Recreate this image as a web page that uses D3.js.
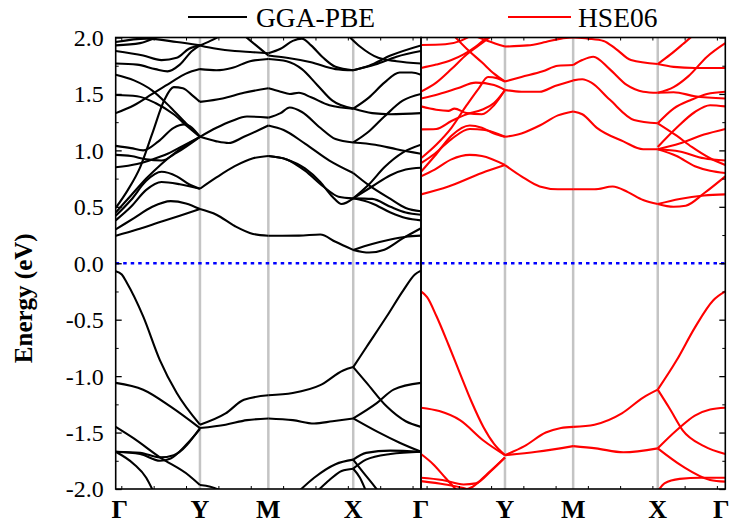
<!DOCTYPE html>
<html>
<head>
<meta charset="utf-8">
<script src="https://cdn.jsdelivr.net/npm/d3@7"></script>
<style>
  body { margin: 0; background: #fff; }
  text { font-family: "Liberation Serif", "Times New Roman", serif; }
</style>
</head>
<body>
<script>
// k-path: high symmetry points (fraction of path length)
var kNodes = [0, 0.276, 0.5, 0.778, 1];
var kLabels = ["Γ", "Y", "M", "X", "Γ"];
var energyTicks = [2, 1.5, 1, 0.5, 0, -0.5, -1, -1.5, -2];
var legendNames = ["GGA-PBE", "HSE06"];

// GGA-PBE bands, [k, E(eV)]
var pbeValence = [
  [[0,-0.07],[0.02,-0.10],[0.036,-0.17],[0.09,-0.47],[0.145,-0.86],[0.2,-1.15],[0.276,-1.43],[0.36,-1.33],[0.42,-1.21],[0.5,-1.17],[0.58,-1.15],[0.67,-1.08],[0.745,-0.95],[0.778,-0.92],[0.822,-0.74],[0.888,-0.47],[0.942,-0.24],[0.98,-0.10],[1,-0.065]],
  [[0,-1.06],[0.09,-1.12],[0.18,-1.27],[0.276,-1.46],[0.36,-1.43],[0.43,-1.39],[0.5,-1.375],[0.58,-1.39],[0.65,-1.42],[0.71,-1.40],[0.778,-1.375],[0.855,-1.24],[0.91,-1.12],[1,-1.06]],
  [[0.778,-0.92],[0.822,-1.06],[0.888,-1.27],[0.95,-1.40],[1,-1.45]],
  [[0.778,-1.375],[0.855,-1.49],[0.93,-1.59],[1,-1.67]],
  [[0,-1.45],[0.058,-1.55],[0.145,-1.72],[0.24,-1.88],[0.276,-1.965],[0.31,-1.98],[0.35,-2.02]],
  [[0,-1.67],[0.08,-1.68],[0.145,-1.72],[0.19,-1.70],[0.276,-1.46]],
  [[0,-1.67],[0.08,-1.69],[0.145,-1.75],[0.18,-1.73],[0.23,-1.61],[0.276,-1.47]],
  [[0,-1.67],[0.06,-1.78],[0.1,-1.90],[0.123,-2.02]],
  [[0.6,-2.02],[0.65,-1.9],[0.72,-1.78],[0.778,-1.74],[0.82,-1.68],[0.9,-1.66],[1,-1.67]],
  [[0.66,-2.02],[0.7,-1.92],[0.74,-1.84],[0.778,-1.82],[0.82,-1.74],[0.9,-1.69],[1,-1.67]],
  [[0.778,-1.74],[0.81,-1.85],[0.84,-1.95],[0.86,-2.02]],
  [[0.778,-1.82],[0.80,-1.90],[0.82,-2.02]]
];
var pbeConduction = [
  [[0,0.244],[0.07,0.30],[0.14,0.36],[0.21,0.42],[0.276,0.48],[0.33,0.43],[0.39,0.33],[0.45,0.26],[0.5,0.244],[0.6,0.245],[0.67,0.255],[0.72,0.19],[0.778,0.118],[0.84,0.17],[0.9,0.21],[0.95,0.235],[1,0.245]],
  [[0,0.30],[0.06,0.40],[0.12,0.50],[0.18,0.55],[0.23,0.53],[0.276,0.48]],
  [[0.778,0.118],[0.83,0.095],[0.88,0.12],[0.94,0.22],[1,0.31]],
  [[0,0.38],[0.05,0.50],[0.1,0.65],[0.15,0.72],[0.21,0.70],[0.276,0.66],[0.33,0.76],[0.39,0.86],[0.45,0.93],[0.5,0.95],[0.56,0.92],[0.62,0.82],[0.68,0.68],[0.73,0.59],[0.778,0.575],[0.84,0.53],[0.9,0.45],[0.95,0.40],[1,0.38]],
  [[0,0.42],[0.05,0.56],[0.1,0.73],[0.15,0.81],[0.2,0.77],[0.24,0.70],[0.276,0.66]],
  [[0.5,0.95],[0.56,0.92],[0.62,0.84],[0.67,0.72],[0.71,0.59],[0.74,0.525],[0.778,0.575],[0.84,0.68],[0.9,0.78],[0.95,0.83],[1,0.846]],
  [[0,0.45],[0.05,0.60],[0.1,0.75],[0.15,0.88],[0.2,0.99],[0.276,1.12],[0.33,1.08],[0.37,1.065],[0.42,1.12],[0.5,1.22],[0.55,1.18],[0.62,1.06],[0.7,0.91],[0.778,0.80],[0.83,0.69],[0.9,0.57],[0.95,0.49],[1,0.46]],
  [[0,0.49],[0.04,0.65],[0.08,0.85],[0.12,1.15],[0.16,1.45],[0.19,1.56],[0.22,1.55],[0.25,1.49],[0.276,1.43],[0.35,1.46],[0.42,1.51],[0.5,1.55],[0.54,1.52],[0.57,1.50],[0.6,1.51],[0.64,1.47],[0.7,1.40],[0.778,1.37],[0.84,1.33],[0.9,1.32],[1,1.33]],
  [[0,1.04],[0.05,1.02],[0.09,1.0],[0.14,1.08],[0.19,1.2],[0.225,1.23],[0.25,1.2],[0.276,1.12],[0.33,1.2],[0.38,1.26],[0.43,1.30],[0.5,1.29],[0.54,1.33],[0.57,1.38],[0.61,1.34],[0.67,1.2],[0.72,1.1],[0.778,1.07],[0.85,1.05],[0.92,1.01],[1,0.97]],
  [[0,0.85],[0.07,0.88],[0.12,0.92],[0.17,0.97],[0.22,1.04],[0.276,1.12]],
  [[0,0.96],[0.05,0.95],[0.1,0.92],[0.15,0.91],[0.2,0.98],[0.276,1.12]],
  [[0.778,0.575],[0.83,0.7],[0.88,0.85],[0.94,0.98],[1,1.05]],
  [[0.778,0.575],[0.84,0.57],[0.9,0.50],[0.95,0.45],[1,0.43]],
  [[0,1.33],[0.06,1.40],[0.12,1.50],[0.18,1.60],[0.23,1.68],[0.276,1.72],[0.33,1.71],[0.38,1.73],[0.44,1.79],[0.5,1.81],[0.56,1.79],[0.61,1.72],[0.66,1.58],[0.71,1.44],[0.778,1.37],[0.83,1.47],[0.88,1.6],[0.93,1.69],[0.97,1.69],[1,1.67]],
  [[0,1.49],[0.07,1.48],[0.13,1.42],[0.19,1.32],[0.24,1.2],[0.276,1.12]],
  [[0,1.67],[0.06,1.62],[0.12,1.53],[0.18,1.38],[0.23,1.24],[0.276,1.12]],
  [[0.778,1.07],[0.83,1.17],[0.88,1.3],[0.94,1.44],[1,1.50]],
  [[0,1.77],[0.07,1.76],[0.13,1.72],[0.17,1.70],[0.21,1.76],[0.25,1.88],[0.276,1.93],[0.33,1.90],[0.39,1.88],[0.45,1.87],[0.5,1.86],[0.54,1.9],[0.58,1.97],[0.61,1.99],[0.64,1.93],[0.68,1.82],[0.72,1.74],[0.778,1.71],[0.83,1.75],[0.9,1.84],[1,1.93]],
  [[0,1.88],[0.09,1.84],[0.15,1.80],[0.2,1.82],[0.24,1.9],[0.276,1.93],[0.31,1.97],[0.34,2.01]],
  [[0,1.96],[0.1,1.99],[0.2,1.96],[0.276,1.93]],
  [[0,1.93],[0.08,1.95],[0.14,2.01]],
  [[0.42,2.02],[0.46,1.93],[0.5,1.84],[0.56,1.82],[0.64,1.78],[0.72,1.72],[0.778,1.71],[0.85,1.76],[0.92,1.83],[1,1.88]],
  [[0.76,2.02],[0.8,1.92],[0.86,1.82],[0.92,1.79],[1,1.77]]
];

// HSE06 bands, [k, E(eV)]
var hseValence = [
  [[0,-0.25],[0.02,-0.30],[0.051,-0.47],[0.09,-0.72],[0.128,-0.975],[0.165,-1.22],[0.205,-1.45],[0.24,-1.6],[0.276,-1.70],[0.34,-1.62],[0.41,-1.50],[0.46,-1.46],[0.5,-1.45],[0.57,-1.43],[0.66,-1.33],[0.73,-1.19],[0.778,-1.12],[0.84,-0.86],[0.9,-0.57],[0.96,-0.33],[1,-0.25]],
  [[0,-1.28],[0.06,-1.31],[0.128,-1.39],[0.205,-1.57],[0.276,-1.70],[0.38,-1.67],[0.5,-1.62],[0.575,-1.64],[0.665,-1.675],[0.778,-1.64],[0.84,-1.48],[0.9,-1.35],[0.95,-1.295],[1,-1.28]],
  [[0.778,-1.64],[0.86,-1.80],[0.95,-1.92],[1,-1.935]],
  [[0.778,-1.12],[0.82,-1.3],[0.86,-1.48],[0.93,-1.62],[1,-1.69]],
  [[0,-1.69],[0.04,-1.78],[0.08,-1.9],[0.12,-2.02]],
  [[0,-1.90],[0.07,-1.92],[0.14,-1.96],[0.18,-1.95],[0.23,-1.84],[0.276,-1.72]],
  [[0,-1.93],[0.08,-1.96],[0.15,-2.0],[0.17,-2.02]],
  [[0.12,-2.02],[0.17,-1.98],[0.22,-1.86],[0.276,-1.72]],
  [[0.778,-2.02],[0.8,-1.95],[0.85,-1.91],[0.92,-1.90],[1,-1.90]]
];
var hseConduction = [
  [[0,0.61],[0.09,0.68],[0.2,0.80],[0.276,0.87],[0.33,0.77],[0.39,0.68],[0.45,0.655],[0.5,0.655],[0.57,0.655],[0.63,0.68],[0.68,0.63],[0.73,0.56],[0.778,0.525],[0.85,0.57],[0.93,0.60],[1,0.61]],
  [[0,0.77],[0.045,0.83],[0.1,0.92],[0.16,0.96],[0.2,0.95],[0.276,0.87]],
  [[0.778,0.525],[0.83,0.50],[0.87,0.51],[0.93,0.62],[1,0.77]],
  [[0,0.81],[0.045,0.95],[0.1,1.13],[0.16,1.22],[0.2,1.20],[0.24,1.15],[0.276,1.12],[0.33,1.15],[0.39,1.22],[0.45,1.31],[0.5,1.345],[0.53,1.32],[0.578,1.2],[0.665,1.08],[0.73,1.01],[0.778,1.01],[0.85,0.99],[0.93,0.93],[1,0.91]],
  [[0,0.886],[0.045,0.97],[0.1,1.10],[0.16,1.19],[0.21,1.18],[0.276,1.12]],
  [[0.778,1.01],[0.84,0.95],[0.9,0.86],[0.95,0.82],[1,0.80]],
  [[0.778,1.01],[0.85,1.06],[0.93,1.14],[1,1.19]],
  [[0,0.93],[0.05,1.05],[0.1,1.2],[0.15,1.4],[0.19,1.55],[0.22,1.65],[0.25,1.64],[0.276,1.61],[0.33,1.65],[0.4,1.70],[0.45,1.75],[0.5,1.756],[0.53,1.80],[0.566,1.83],[0.62,1.72],[0.676,1.58],[0.73,1.52],[0.778,1.51],[0.83,1.515],[0.9,1.48],[1,1.46]],
  [[0,1.186],[0.05,1.19],[0.1,1.26],[0.15,1.32],[0.2,1.36],[0.24,1.42],[0.276,1.535],[0.33,1.52],[0.39,1.52],[0.44,1.57],[0.5,1.62],[0.53,1.63],[0.56,1.60],[0.62,1.45],[0.7,1.27],[0.778,1.24],[0.84,1.13],[0.89,1.03],[0.95,0.93],[1,0.87]],
  [[0.778,1.24],[0.83,1.37],[0.89,1.45],[0.94,1.50],[1,1.52]],
  [[0,1.39],[0.05,1.36],[0.09,1.35],[0.11,1.37],[0.15,1.33],[0.2,1.32],[0.24,1.40],[0.276,1.535]],
  [[0,1.46],[0.06,1.50],[0.12,1.55],[0.18,1.60],[0.24,1.58],[0.276,1.535]],
  [[0,1.52],[0.05,1.6],[0.1,1.72],[0.15,1.85],[0.2,1.95],[0.23,2.01]],
  [[0,1.73],[0.05,1.76],[0.1,1.80],[0.14,1.85],[0.18,1.92],[0.22,2.01]],
  [[0,1.934],[0.08,1.94],[0.13,1.97],[0.16,2.01]],
  [[0.11,2.01],[0.15,1.9],[0.2,1.78],[0.24,1.68],[0.276,1.61]],
  [[0.18,2.01],[0.22,1.97],[0.276,1.92],[0.35,1.93],[0.41,1.96],[0.46,1.99],[0.5,2.0],[0.55,1.99],[0.6,1.97],[0.64,1.90],[0.69,1.80],[0.778,1.765],[0.83,1.74],[0.9,1.73],[1,1.73]],
  [[0.778,1.765],[0.82,1.85],[0.86,1.94],[0.89,2.01]],
  [[0.778,1.51],[0.83,1.56],[0.88,1.66],[0.94,1.83],[1,1.95]],
  [[0.778,1.03],[0.84,1.2],[0.9,1.34],[0.95,1.40],[1,1.39]]
];

var W = 732, H = 528;
var plotTop = 37.5, plotBottom = 489;
var svg = d3.select("body").append("svg")
    .attr("width", W).attr("height", H);

var y = d3.scaleLinear().domain([-2, 2]).range([plotBottom, plotTop]);

var panels = [
  { x0: 115.7, x1: 421, color: "#000000", bands: pbeValence.concat(pbeConduction) },
  { x0: 421, x1: 725.3, color: "#ff0000", bands: hseValence.concat(hseConduction) }
];

// break a band at the high-symmetry points so kinks stay sharp
function splitAtNodes(band) {
  var pieces = [], cur = [];
  band.forEach(function(p, i) {
    cur.push(p);
    var atNode = kNodes.slice(1, 4).some(function(k) { return Math.abs(k - p[0]) < 0.003; });
    if (atNode && i > 0 && i < band.length - 1) {
      pieces.push(cur);
      cur = [p];
    }
  });
  if (cur.length > 1) pieces.push(cur);
  return pieces;
}

var kMinor = d3.range(0.02, 1, 0.106);

panels.forEach(function(p, pi) {
  var x = d3.scaleLinear().domain([0, 1]).range([p.x0, p.x1]);
  var g = svg.append("g");

  svg.append("clipPath").attr("id", "clip" + pi)
    .append("rect")
    .attr("x", p.x0).attr("y", plotTop)
    .attr("width", p.x1 - p.x0).attr("height", plotBottom - plotTop);

  var plot = g.append("g").attr("clip-path", "url(#clip" + pi + ")");

  // vertical lines at Y, M, X
  plot.selectAll(".kline")
    .data(kNodes.slice(1, 4))
    .enter().append("line")
    .attr("x1", function(d) { return x(d); })
    .attr("x2", function(d) { return x(d); })
    .attr("y1", plotTop).attr("y2", plotBottom)
    .style("stroke", "#c4c4c4")
    .style("stroke-width", 2.5);

  // Fermi level
  plot.append("line")
    .attr("x1", p.x0).attr("x2", p.x1)
    .attr("y1", y(0)).attr("y2", y(0))
    .style("stroke", "#0000ff")
    .style("stroke-width", 2.5)
    .style("stroke-dasharray", "3.5,4");

  var line = d3.line()
    .x(function(d) { return x(d[0]); })
    .y(function(d) { return y(d[1]); })
    .curve(d3.curveMonotoneX);

  var pieces = [];
  p.bands.forEach(function(b) { pieces = pieces.concat(splitAtNodes(b)); });

  plot.selectAll(".band")
    .data(pieces)
    .enter().append("path")
    .attr("d", line)
    .style("fill", "none")
    .style("stroke", p.color)
    .style("stroke-width", 2.1)
    .style("stroke-linejoin", "round");

  // small k ticks top and bottom
  g.selectAll(".kt")
    .data(kMinor)
    .enter().append("line")
    .attr("x1", function(d) { return x(d); })
    .attr("x2", function(d) { return x(d); })
    .attr("y1", plotBottom).attr("y2", plotBottom - 3)
    .style("stroke", "#000").style("stroke-width", 1);
  g.selectAll(".kt2")
    .data(kMinor)
    .enter().append("line")
    .attr("x1", function(d) { return x(d); })
    .attr("x2", function(d) { return x(d); })
    .attr("y1", plotTop).attr("y2", plotTop + 3)
    .style("stroke", "#000").style("stroke-width", 1);

  // frame
  g.append("rect")
    .attr("x", p.x0).attr("y", plotTop)
    .attr("width", p.x1 - p.x0).attr("height", plotBottom - plotTop)
    .style("fill", "none")
    .style("stroke", "#000")
    .style("stroke-width", 1.6);

  // k labels
  kNodes.forEach(function(k, i) {
    if (pi == 1 && i == 0) return;
    var xx = x(k);
    if (pi == 0 && i == 0) xx += 4;
    if (pi == 1 && i == 4) xx -= 4;
    svg.append("text")
      .attr("x", xx).attr("y", 518)
      .attr("text-anchor", "middle")
      .style("font-size", "26px")
      .style("font-weight", "bold")
      .text(kLabels[i]);
  });
});

// energy axis
var minorTicks = d3.range(-1.75, 2, 0.5);
var leftAxis = d3.axisLeft(y)
  .tickValues(energyTicks)
  .tickSize(-6)
  .tickPadding(12)
  .tickFormat(function(d) { return d.toFixed(1); });
var ga = svg.append("g").attr("transform", "translate(115.7,0)").call(leftAxis);
ga.select(".domain").remove();
ga.selectAll("text").style("font-size", "24px").style("font-family", "Liberation Serif").attr("dy", "0.33em");
ga.selectAll("line").style("stroke-width", 1.3);
var gm = svg.append("g").attr("transform", "translate(115.7,0)")
  .call(d3.axisLeft(y).tickValues(minorTicks).tickSize(-3).tickFormat(""));
gm.select(".domain").remove();

var gr = svg.append("g").attr("transform", "translate(725.3,0)")
  .call(d3.axisRight(y).tickValues(energyTicks).tickSize(-6).tickFormat(""));
gr.select(".domain").remove();
gr.selectAll("line").style("stroke-width", 1.3);
var grm = svg.append("g").attr("transform", "translate(725.3,0)")
  .call(d3.axisRight(y).tickValues(minorTicks).tickSize(-3).tickFormat(""));
grm.select(".domain").remove();

svg.append("text")
  .attr("transform", "translate(32," + ((plotTop + plotBottom) / 2 + 35) + ") rotate(-90)")
  .attr("text-anchor", "middle")
  .style("font-size", "25px")
  .style("font-weight", "bold")
  .text("Energy (eV)");

// legend
var legend = [
  { name: legendNames[0], color: "#000000", x1: 188, x2: 247, tx: 256 },
  { name: legendNames[1], color: "#ff0000", x1: 508, x2: 571, tx: 578 }
];
legend.forEach(function(l) {
  svg.append("line")
    .attr("x1", l.x1).attr("x2", l.x2)
    .attr("y1", 17).attr("y2", 17)
    .style("stroke", l.color).style("stroke-width", 2.2);
  svg.append("text")
    .attr("x", l.tx).attr("y", 27)
    .style("font-size", "27.5px")
    .text(l.name);
});
</script>
</body>
</html>
